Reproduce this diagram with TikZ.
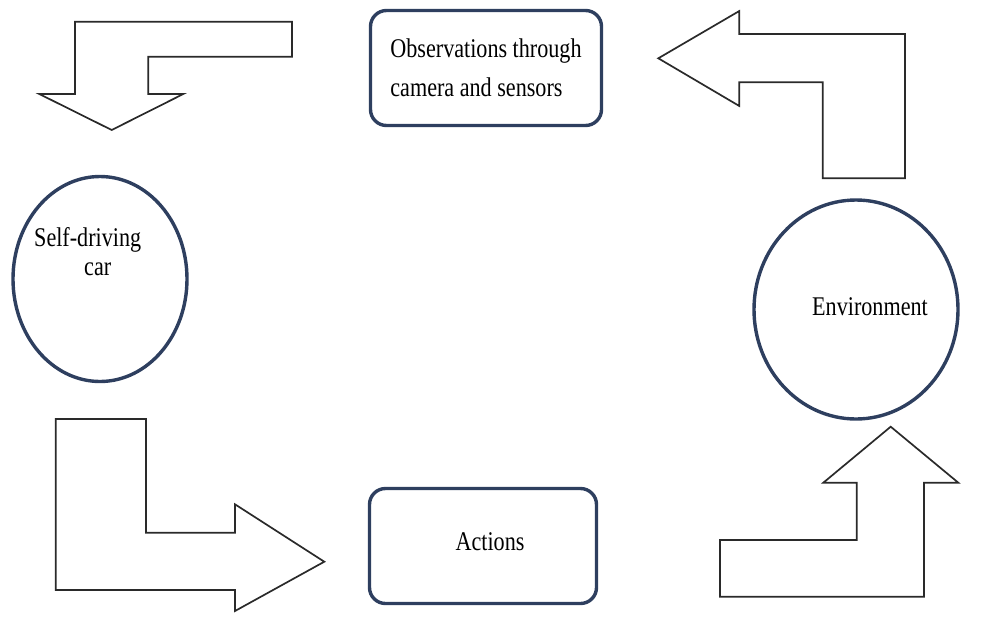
\documentclass[tikz,border=0pt]{standalone}
\usepackage{fontspec}
\setmainfont[FakeStretch=0.82]{Liberation Serif}
\usetikzlibrary{shapes.geometric}
\definecolor{boxblue}{HTML}{2E3F5F}
\definecolor{arrowgray}{HTML}{2A2A2A}
\begin{document}
\begin{tikzpicture}[x=1pt,y=-1pt,
  navyline/.style={draw=boxblue, line width=3.4pt},
  roundbox/.style={navyline, rounded corners=16pt, inner sep=0pt, align=left,
    font=\fontsize{27}{39}\selectfont},
  ovalnode/.style={navyline, ellipse, inner sep=0pt},
  lbl/.style={inner sep=0pt, font=\fontsize{27}{29}\selectfont},
  bentarrow/.style={draw=arrowgray, line width=1.7pt, line join=miter}]
\useasboundingbox (0,0) rectangle (984,619);

% nodes
\node[roundbox, minimum width=231pt, minimum height=115pt] (obs) at (486,68)
  {Observations through\\camera and sensors};
\node[roundbox, minimum width=227pt, minimum height=115pt] (act) at (483,546) {};
\node[lbl] (acttext) at (490,542) {Actions};
\node[ovalnode, minimum width=174pt, minimum height=205pt] (car) at (100,279) {};
\node[ovalnode, minimum width=204pt, minimum height=219pt] (env) at (856,309.5) {};
\node[lbl, anchor=west, align=left] (cartext) at (34,252) {Self-driving\\\hspace*{50pt}car};
\node[lbl] (envtext) at (870,307) {Environment};

% bent block arrows
\draw[bentarrow] (75,21.7) -- (292,21.7) -- (292,56.7) -- (148.3,56.7) -- (148.3,94)
  -- (183.3,94) -- (111.7,130) -- (39.3,94) -- (75,94) -- cycle;
\draw[bentarrow] (658.3,58.3) -- (739.3,11) -- (739.3,34) -- (905,34) -- (905,178.3)
  -- (822.7,178.3) -- (822.7,82.3) -- (739.3,82.3) -- (739.3,106) -- cycle;
\draw[bentarrow] (55.7,419) -- (146,419) -- (146,532.7) -- (235,532.7) -- (235,504.3)
  -- (324.3,561.7) -- (235,611) -- (235,590) -- (55.7,590) -- cycle;
\draw[bentarrow] (720,540) -- (856.7,540) -- (856.7,482.7) -- (823.3,482.7)
  -- (890.7,426.7) -- (958.3,482.7) -- (924,482.7) -- (924,596.7) -- (720,596.7) -- cycle;
\end{tikzpicture}
\end{document}
